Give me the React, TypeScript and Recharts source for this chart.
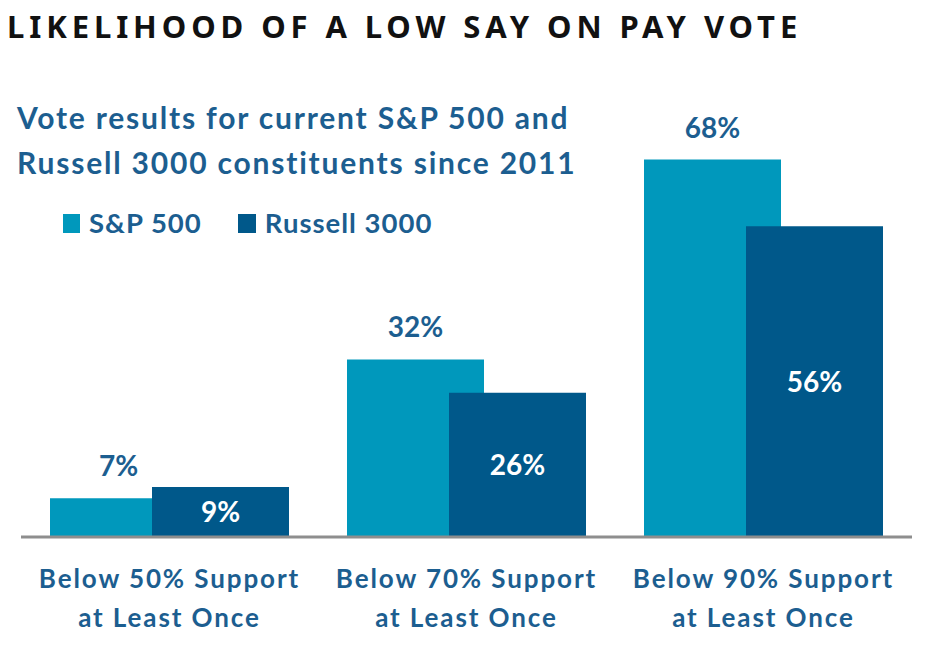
import React from 'react';
import { BarChart, Bar, XAxis, YAxis, LabelList } from 'recharts';

const categories = ['Below 50% Support|at Least Once', 'Below 70% Support|at Least Once', 'Below 90% Support|at Least Once'];
const sp500 = [7, 32, 68];
const russell3000 = [9, 26, 56];

const data = categories.map((name, i) => ({ name, sp: sp500[i], russell: russell3000[i] }));

const TEAL = '#0098BC';
const NAVY = '#00588A';
const TEXT = '#1C5E90';
const FONT = 'Lato, "Open Sans", sans-serif';

const CategoryTick = (props: any) => {
  const { x, y, payload } = props;
  const lines = String(payload.value).split('|');
  return (
    <text x={x} y={y} textAnchor="middle" fill={TEXT} fontFamily={FONT} fontWeight={700} fontSize={26} letterSpacing={1.9}>
      {lines.map((l, i) => (
        <tspan key={i} x={x} dy={i === 0 ? 43 : 39}>{l}</tspan>
      ))}
    </text>
  );
};

const App: React.FC = () => {
  return (
    <div style={{ position: 'absolute', left: 0, top: 0, width: 936, height: 668, background: '#fff', overflow: 'hidden' }}>
      <div style={{ position: 'absolute', left: 7, top: 8, fontFamily: '"Noto Sans", sans-serif', fontWeight: 700, fontSize: 31, letterSpacing: 4.9, color: '#111', lineHeight: '36px', whiteSpace: 'nowrap' }}>
        LIKELIHOOD OF A LOW SAY ON PAY VOTE
      </div>
      <div style={{ position: 'absolute', left: 17, top: 95, fontFamily: FONT, fontWeight: 700, fontSize: 30, letterSpacing: 1.8, color: TEXT, lineHeight: '45px', whiteSpace: 'nowrap' }}>
        Vote results for current S&amp;P 500 and<br />Russell 3000 constituents since 2011
      </div>
      <div style={{ position: 'absolute', left: 63, top: 206, display: 'flex', alignItems: 'center', fontFamily: FONT, fontWeight: 700, fontSize: 27.5, letterSpacing: 1, color: TEXT, whiteSpace: 'nowrap', lineHeight: '34px' }}>
        <span style={{ display: 'inline-block', width: 17, height: 19, background: TEAL, marginRight: 9 }} />
        <span>S&amp;P 500</span>
        <span style={{ display: 'inline-block', width: 18, height: 19, background: NAVY, marginLeft: 36, marginRight: 9 }} />
        <span>Russell 3000</span>
      </div>
      <BarChart
        width={936}
        height={668}
        data={data}
        margin={{ top: 93, right: 24, left: 21, bottom: 0 }}
        barSize={137}
        barGap={-35}
        style={{ position: 'absolute', left: 0, top: 0 }}
      >
        <XAxis
          dataKey="name"
          height={131}
          axisLine={{ stroke: '#8E8E8E', strokeWidth: 3 }}
          tickLine={false}
          tick={<CategoryTick />}
          interval={0}
        />
        <YAxis domain={[0, 80]} hide />
        <Bar dataKey="sp" fill={TEAL} isAnimationActive={false}>
          <LabelList dataKey="sp" position="top" offset={22} formatter={(v: any) => `${v}%`} fill={TEXT} fontFamily={FONT} fontWeight={700} fontSize={28} />
        </Bar>
        <Bar dataKey="russell" fill={NAVY} isAnimationActive={false}>
          <LabelList dataKey="russell" position="center" formatter={(v: any) => `${v}%`} fill="#fff" fontFamily={FONT} fontWeight={700} fontSize={28} />
        </Bar>
      </BarChart>
    </div>
  );
};

export default App;
